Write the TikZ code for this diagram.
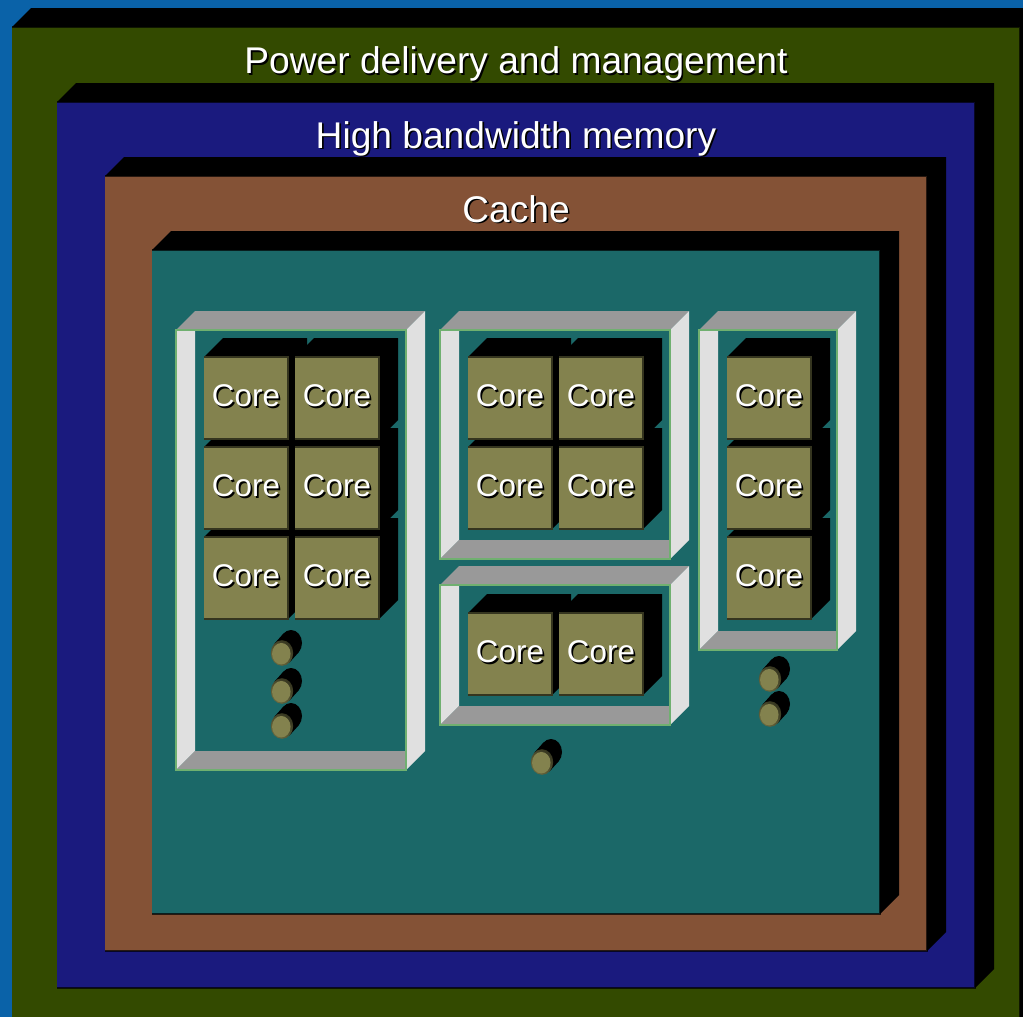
\documentclass[tikz,border=0pt]{standalone}
\usepackage{xcolor}
\usepackage{fontspec}
\setmainfont{Liberation Sans}
\usetikzlibrary{shapes.geometric}

\definecolor{pagecol}{HTML}{0A62A8}
\definecolor{powercol}{HTML}{334A00}
\definecolor{memorycol}{HTML}{1A1A7E}
\definecolor{cachecol}{HTML}{845236}
\definecolor{diecol}{HTML}{1B6868}
\definecolor{corecol}{HTML}{83824E}
\definecolor{coreedge}{HTML}{35351F}
\definecolor{framecol}{HTML}{E0E0E0}
\definecolor{floorcol}{HTML}{999999}
\definecolor{frameedge}{HTML}{70B070}

\newcommand{\lifted}[1]{\makebox[0pt][l]{\hspace{1.7pt}\raisebox{-1.7pt}{\textcolor{black}{#1}}}#1}

\newcommand{\slab}[6]{%
  \fill (#3,#4) -- ++(19,-19) -- (#5+19,#4-19) -- (#5+19,#6-19) -- (#5,#6) -- cycle;
  \node[slabface, fill=#2, minimum width=#5pt-#3pt, minimum height=#6pt-#4pt] (#1) at (#3,#4) {};
  \draw[slabedge] (#1.north west) -- (#1.north east) -- (#1.south east) -- (#1.south west);
}

\newcommand{\bay}[5]{%
  \fill[floorcol] (#2,#3) -- ++(19,-19) -- (#4+19,#3-19) -- (#4,#3) -- cycle;
  \fill[framecol] (#4,#3) -- ++(19,-19) -- (#4+19,#5-19) -- (#4,#5) -- cycle;
  \fill[framecol] (#2,#3) -- (#2+19,#3) -- (#2+19,#5-19) -- (#2,#5) -- cycle;
  \fill[floorcol] (#2,#5) -- (#2+19,#5-19) -- (#4,#5-19) -- (#4,#5) -- cycle;
  \node[bayface, minimum width=#4pt-#2pt, minimum height=#5pt-#3pt] (#1) at (#2,#3) {};
}

\newcommand{\corebox}[3]{%
  \fill (#2,#3) -- ++(19,-19) -- ++(84,0) -- ++(0,82) -- ++(-19,19) -- ++(-84,0) -- cycle;
  \node[core] (#1) at (#2,#3) {\lifted{Core}};
  \draw[coreline] (#1.north west) -- (#1.north east) -- (#1.south east) -- (#1.south west);
}

\newcommand{\pin}[3]{%
  \fill (#2+7.5,#3+9.5) -- (#2+16.5,#3-0.5) -- (#2+1.5,#3-19.5) -- (#2-7.5,#3-9.5) -- cycle;
  \fill (#2+9,#3-10) ellipse (11 and 13);
  \shade[pinrim] (#2,#3) ellipse (11.2 and 12.8);
  \node[pinface] (#1) at (#2-0.7,#3+0.7) {};
}

\begin{document}
\begin{tikzpicture}[
  x=1pt, y=-1pt,
  slabface/.style={anchor=north west, inner sep=0pt, outer sep=0pt},
  slabedge/.style={black, line width=2pt, opacity=0.7},
  bayface/.style={draw=frameedge, line width=1.8pt, anchor=north west, inner sep=0pt, outer sep=0pt},
  core/.style={fill=corecol, anchor=north west, inner sep=0pt, outer sep=0pt,
    minimum width=84pt, minimum height=82pt, text=white, text height=23pt, text depth=6pt,
    font=\fontsize{31.4}{34}\selectfont},
  coreline/.style={coreedge, line width=1.8pt},
  pinrim/.style={top color=coreedge, bottom color=corecol!80!black, shading angle=-40},
  pinface/.style={ellipse, fill=corecol, inner sep=0pt, minimum width=18.5pt, minimum height=21.5pt},
  title/.style={anchor=base, text=white, inner sep=0pt, font=\fontsize{37.15}{40}\selectfont}
]
  \useasboundingbox (0,0) rectangle (1023,1017);
  \clip (0,0) rectangle (1023,1017);
  \fill[pagecol] (0,0) rectangle (1023,1017);

  \slab{power}{powercol}{12}{27}{1020}{1040}
  \node[title] (powerlabel) at (516,73.5) {\lifted{Power delivery and management}};
  \slab{memory}{memorycol}{57}{102}{975}{988}
  \node[title] (memorylabel) at (516,148) {\lifted{High bandwidth memory}};
  \slab{cache}{cachecol}{105}{176}{927}{951}
  \node[title] (cachelabel) at (516,222) {\lifted{Cache}};
  \slab{die}{diecol}{152}{250}{880}{914}

  \bay{bayA}{176}{330}{406}{770}
  \bay{bayB}{440}{330}{670}{559}
  \bay{bayC}{440}{585}{670}{725}
  \bay{bayD}{699}{330}{837}{650}

  \corebox{coreAe}{204}{537}
  \corebox{coreAf}{295}{537}
  \corebox{coreAc}{204}{447}
  \corebox{coreAd}{295}{447}
  \corebox{coreAa}{204}{357}
  \corebox{coreAb}{295}{357}

  \corebox{coreBc}{468}{447}
  \corebox{coreBd}{559}{447}
  \corebox{coreBa}{468}{357}
  \corebox{coreBb}{559}{357}

  \corebox{coreCa}{468}{613}
  \corebox{coreCb}{559}{613}

  \corebox{coreDc}{727}{537}
  \corebox{coreDb}{727}{447}
  \corebox{coreDa}{727}{357}

  \pin{pinAc}{282}{726}
  \pin{pinAb}{282}{691}
  \pin{pinAa}{282}{653}
  \pin{pinC}{542}{762}
  \pin{pinDb}{770}{714}
  \pin{pinDa}{770}{679}
\end{tikzpicture}
\end{document}
